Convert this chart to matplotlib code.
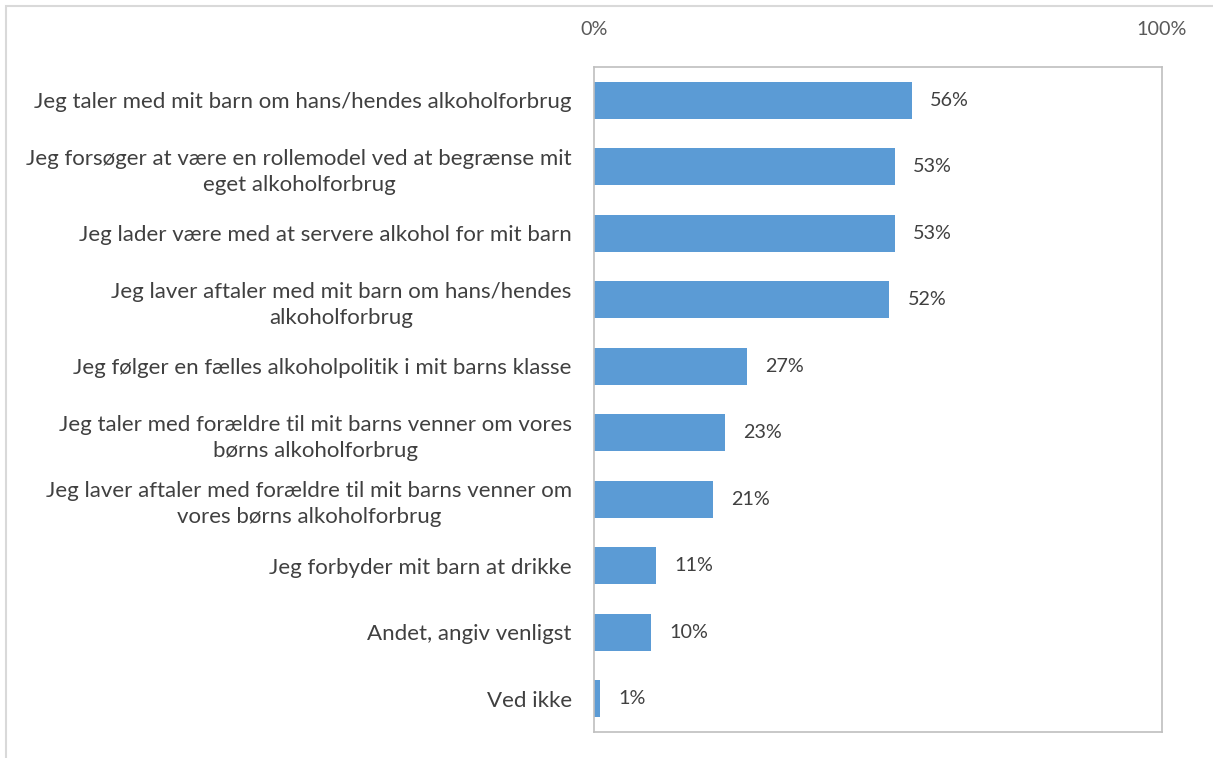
import matplotlib.pyplot as plt
from matplotlib.patches import Rectangle

plt.rcParams['font.family'] = ['Lato', 'DejaVu Sans']

# Svar (fra øverst til nederst) og andele i procent
svar = [
    'Jeg taler med mit barn om hans/hendes alkoholforbrug',
    'Jeg forsøger at være en rollemodel ved at begrænse mit\neget alkoholforbrug',
    'Jeg lader være med at servere alkohol for mit barn',
    'Jeg laver aftaler med mit barn om hans/hendes\nalkoholforbrug',
    'Jeg følger en fælles alkoholpolitik i mit barns klasse',
    'Jeg taler med forældre til mit barns venner om vores\nbørns alkoholforbrug',
    'Jeg laver aftaler med forældre til mit barns venner om\nvores børns alkoholforbrug',
    'Jeg forbyder mit barn at drikke',
    'Andet, angiv venligst',
    'Ved ikke',
]
andel = [56, 53, 53, 52, 27, 23, 21, 11, 10, 1]
ticks = [0, 100]
tick_labels = ['0%', '100%']

W, H = 1213, 758
fig = plt.figure(figsize=(W / 100, H / 100), dpi=100)
fig.patches.append(Rectangle((6 / W, -0.1), 1.2, 1 - 6 / H + 0.1, transform=fig.transFigure,
                             fill=False, edgecolor='#d9d9d9', linewidth=1.5))

ax = fig.add_axes([594 / W, 1 - 732 / H, (1162 - 594) / W, (732 - 67) / H])
y = list(range(len(svar)))
ax.barh(y, andel, height=0.56, color='#5b9bd5')
ax.set_xlim(0, 100)
ax.set_ylim(len(svar) - 0.5, -0.5)

for yi, v in zip(y, andel):
    ax.text(v + 3.2, yi, f'{v}%', va='center', ha='left', fontsize=14.2, color='#404040')

ax.xaxis.tick_top()
ax.set_xticks(ticks)
ax.set_xticklabels(tick_labels, fontsize=14.2, color='#595959')
ax.tick_params(axis='x', length=0, pad=21)
ax.set_yticks(y)
ax.set_yticklabels(svar, fontsize=16.0, color='#404040', linespacing=1.38,
                   multialignment='center')
ax.tick_params(axis='y', length=0, pad=16)

for s in ax.spines.values():
    s.set_color('#bfbfbf')
    s.set_linewidth(1.2)

fig.savefig('out.png', dpi=100)
